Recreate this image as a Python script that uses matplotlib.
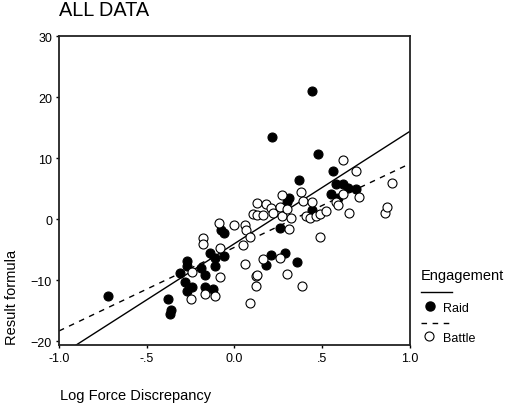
import matplotlib
matplotlib.use("Agg")
import matplotlib.pyplot as plt
from matplotlib.lines import Line2D
import numpy as np

plt.rcParams['font.family'] = ['Liberation Sans', 'DejaVu Sans']

# Raid (filled) points: log force discrepancy, result formula
raid_x = [-0.72, -0.38, -0.36, -0.37, -0.31, -0.27, -0.27, -0.28, -0.27, -0.24,
          -0.19, -0.17, -0.17, -0.12, -0.14, -0.11, -0.06, -0.11, -0.075, -0.057,
          0.18, 0.21, 0.285, 0.355, 0.26, 0.31, 0.30, 0.44, 0.37, 0.215,
          0.44, 0.475, 0.56, 0.55, 0.59, 0.58, 0.62, 0.645, 0.69]
raid_y = [-12.6, -13.1, -14.9, -15.6, -8.8, -6.8, -7.7, -10.3, -11.7, -11.1,
          -8.0, -9.1, -11.1, -11.4, -5.5, -6.4, -6.0, -7.6, -1.7, -2.3,
          -7.5, -5.9, -5.6, -7.0, -1.4, 3.4, 2.8, 1.5, 6.5, 13.4,
          21.0, 10.6, 7.9, 4.2, 3.5, 5.7, 5.7, 5.1, 5.0]

# Battle (open) points
battle_x = [-0.25, -0.24, -0.18, -0.18, -0.17, -0.11, -0.08, -0.09, -0.085, 0.05,
            0.058, 0.068, 0.086, 0.06, 0.16, 0.26, 0.12, 0.13, 0.12, 0.30,
            0.385, 0.086, 0.31, 0.49, 0.105, 0.13, 0.16, 0.13, 0.18, 0.21,
            0.22, 0.26, 0.27, 0.30, 0.32, 0.27, 0.38, 0.39, 0.44, 0.41,
            0.43, 0.465, 0.49, 0.52, 0.58, 0.59, 0.62, 0.655, 0.71, 0.86,
            0.87, 0.895, 0.62, 0.69, 0.0]
battle_y = [-13.1, -8.7, -3.0, -4.0, -12.2, -12.5, -9.5, -0.7, -4.7, -4.2,
            -1.0, -1.7, -2.9, -7.3, -6.5, -6.4, -9.3, -9.1, -11.0, -9.0,
            -11.0, -13.7, -1.6, -2.9, 0.8, 0.7, 0.7, 2.6, 2.5, 1.9,
            1.0, 2.0, 0.5, 1.6, 0.2, 3.9, 4.4, 3.0, 2.8, 0.5,
            0.2, 0.6, 0.9, 1.3, 2.8, 2.4, 4.2, 1.0, 3.7, 1.0,
            2.0, 5.9, 9.7, 7.9, -1.0]

# fit lines (slope, intercept)
raid_fit = (18.4, -4.0)
battle_fit = (13.7, -4.6)

xticks = [-1.0, -0.5, 0.0, 0.5, 1.0]
xticklabels = ['-1.0', '-.5', '0.0', '.5', '1.0']
yticks = [30, 20, 10, 0, -10, -20]

W, H = 510, 410
fig = plt.figure(figsize=(W / 100, H / 100), dpi=100)
ax = fig.add_axes([59 / W, 1 - 346 / H, (410 - 59) / W, (346 - 37) / H])

ms = 42
ax.scatter(raid_x, raid_y, s=ms, c='black', edgecolors='black', linewidths=0.8, zorder=3)
ax.scatter(battle_x, battle_y, s=ms, facecolors='white', edgecolors='black', linewidths=0.8, zorder=3)

ax.axline((0, raid_fit[1]), slope=raid_fit[0], color='black', lw=1.0, zorder=2)
ax.axline((0, battle_fit[1]), slope=battle_fit[0], color='black', lw=1.0,
          linestyle=(0, (4, 4)), zorder=2)

ax.set_xlim(-1.0, 1.0)
ax.set_ylim(-20.6, 30)
ax.set_xticks(xticks)
ax.set_xticklabels(xticklabels)
ax.set_yticks(yticks)
ax.tick_params(direction='out', length=2, width=1, labelsize=9, pad=3)
for sp in ax.spines.values():
    sp.set_linewidth(1.3)
    sp.set_color('#222222')

fig.text(59 / W, 1 - 11 / H, 'ALL DATA', fontsize=14.3, ha='left', va='center')
fig.text(12 / W, 1 - 345 / H, 'Result formula', fontsize=10.5, rotation=90,
         ha='center', va='bottom')
fig.text(60 / W, 1 - 396 / H, 'Log Force Discrepancy', fontsize=10.5, ha='left', va='center')

# legend drawn by hand
fig.text(421 / W, 1 - 276 / H, 'Engagement', fontsize=10.5, ha='left', va='center')
fig.add_artist(Line2D([421 / W, 452 / W], [1 - 293 / H, 1 - 293 / H], color='black', lw=1.0))
fig.add_artist(Line2D([430 / W], [1 - 307 / H], marker='o', markersize=6.5,
                      markerfacecolor='black', markeredgecolor='black', linestyle='none'))
fig.text(443 / W, 1 - 309 / H, 'Raid', fontsize=9, ha='left', va='center')
fig.add_artist(Line2D([421 / W, 452 / W], [1 - 324 / H, 1 - 324 / H], color='black', lw=1.0,
                      linestyle=(0, (4, 4))))
fig.add_artist(Line2D([429 / W], [1 - 337 / H], marker='o', markersize=6.5,
                      markerfacecolor='white', markeredgecolor='black', markeredgewidth=0.8,
                      linestyle='none'))
fig.text(443 / W, 1 - 339 / H, 'Battle', fontsize=9, ha='left', va='center')

fig.savefig('out.png', dpi=100)
